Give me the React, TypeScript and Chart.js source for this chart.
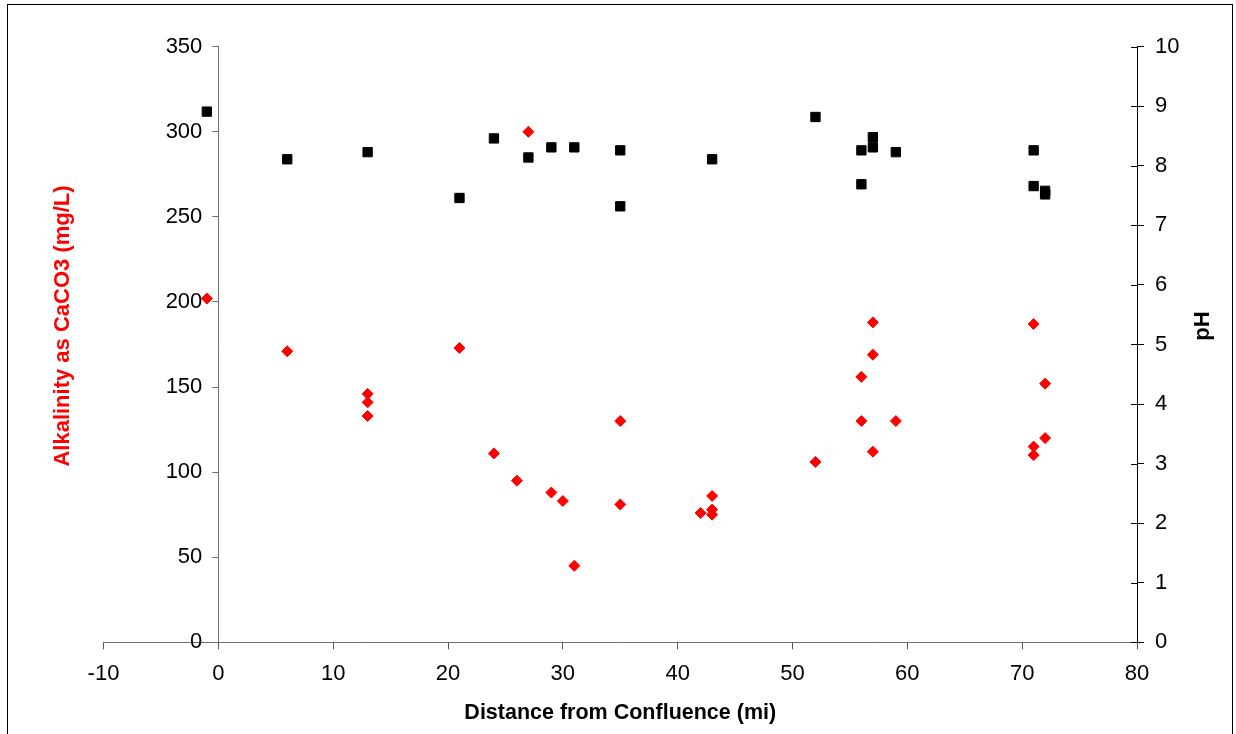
import React, { useEffect, useRef } from "react";
import { Chart, registerables } from "chart.js";

Chart.register(...registerables);

// Alkalinity as CaCO3 (mg/L) vs distance (mi)
const alkDistance = [-1, 6, 13, 13, 13, 21, 24, 26, 27, 29, 30, 31, 35, 35, 42, 43, 43, 43, 52, 56, 56, 57, 57, 57, 59, 71, 71, 71, 72, 72];
const alkValues = [202, 171, 146, 141, 133, 173, 111, 95, 300, 88, 83, 45, 130, 81, 76, 86, 78, 75, 106, 156, 130, 188, 169, 112, 130, 187, 115, 110, 152, 120];

// pH vs distance (mi)
const phDistance = [-1, 6, 13, 21, 24, 27, 29, 31, 35, 35, 43, 52, 56, 56, 57, 57, 59, 71, 71, 72, 72];
const phValues = [8.91, 8.11, 8.23, 7.46, 8.46, 8.14, 8.31, 8.31, 8.26, 7.32, 8.11, 8.82, 8.26, 7.69, 8.48, 8.31, 8.23, 8.26, 7.66, 7.58, 7.52];

// The left axis crosses the x axis at this distance
const leftAxisCrossesAt = 0;

const xTitle = "Distance from Confluence (mi)";
const yLeftTitle = "Alkalinity as CaCO3 (mg/L)";
const yRightTitle = "pH";

const FONT = "'Liberation Sans', Arial, sans-serif";

export default function App() {
  const ref = useRef<HTMLCanvasElement | null>(null);

  useEffect(() => {
    const canvas = ref.current;
    if (!canvas) return;

    const decorations = {
      id: "decorations",
      afterLayout(chart: any) {
        // move the left value axis so that it crosses the x axis at distance 0
        const y = chart.scales.y;
        const x0 = chart.scales.x.getPixelForValue(leftAxisCrossesAt);
        y.right = x0;
        y.left = x0 - 100;
        y.width = 100;
      },
      beforeDraw(chart: any) {
        const ctx = chart.ctx;
        ctx.save();
        ctx.strokeStyle = "#000";
        ctx.lineWidth = 1;
        ctx.strokeRect(7.5, 4.5, 1225, 800);
        ctx.restore();
      },
      afterDraw(chart: any) {
        const ctx = chart.ctx;
        const area = chart.chartArea;
        const y1 = chart.scales.y1;
        ctx.save();
        // inward half of the crossing ticks on the pH axis
        ctx.strokeStyle = "#000";
        ctx.lineWidth = 1;
        ctx.beginPath();
        for (const t of y1.ticks) {
          const py = Math.round(y1.getPixelForValue(t.value)) + 0.5;
          ctx.moveTo(area.right - 6, py);
          ctx.lineTo(area.right, py);
        }
        ctx.stroke();
        // axis titles
        const midY = 326;
        ctx.font = `bold 22px ${FONT}`;
        ctx.textAlign = "center";
        ctx.textBaseline = "middle";
        ctx.fillStyle = "#ff0000";
        ctx.translate(63, midY);
        ctx.rotate(-Math.PI / 2);
        ctx.fillText(yLeftTitle, 0, 0);
        ctx.restore();
        ctx.save();
        ctx.font = `bold 22px ${FONT}`;
        ctx.textAlign = "center";
        ctx.textBaseline = "middle";
        ctx.fillStyle = "#000";
        ctx.translate(1203, midY);
        ctx.rotate(-Math.PI / 2);
        ctx.fillText(yRightTitle, 0, 0);
        ctx.restore();
      },
    };

    const chart = new Chart(canvas, {
      type: "scatter",
      data: {
        datasets: [
          {
            label: "Alkalinity",
            data: alkDistance.map((x, i) => ({ x, y: alkValues[i] })),
            yAxisID: "y",
            pointStyle: "rectRot",
            pointRadius: 5.5,
            pointHoverRadius: 5.5,
            backgroundColor: "#ff0000",
            borderColor: "#ff0000",
            borderWidth: 1,
          },
          {
            label: "pH",
            data: phDistance.map((x, i) => ({ x, y: phValues[i] })),
            yAxisID: "y1",
            pointStyle: "rect",
            pointRadius: 6.6,
            pointHoverRadius: 6.6,
            backgroundColor: "#000000",
            borderColor: "#000000",
            borderWidth: 1,
          },
        ],
      },
      options: {
        responsive: false,
        animation: false,
        layout: { padding: { left: 103.5, top: 46.7, right: 0, bottom: 0 } },
        plugins: {
          legend: { display: false },
          tooltip: { enabled: false },
        },
        scales: {
          x: {
            type: "linear",
            position: "bottom",
            min: -10,
            max: 80,
            ticks: {
              stepSize: 10,
              color: "#000",
              padding: 11,
              font: { family: FONT, size: 22 },
            },
            grid: {
              drawOnChartArea: false,
              drawTicks: true,
              tickLength: 7,
              color: "#555",
            },
            border: { display: true, color: "#6f6f6f", width: 1 },
            title: {
              display: true,
              text: xTitle,
              color: "#000",
              font: { family: FONT, size: 21.5, weight: "bold" },
              padding: { top: 0, bottom: 8 },
            },
            afterFit: (s: any) => {
              s.height = 734 - 642.3;
            },
          },
          y: {
            type: "linear",
            position: "left",
            min: 0,
            max: 350,
            ticks: {
              stepSize: 50,
              color: "#000",
              padding: 10,
              font: { family: FONT, size: 22 },
            },
            grid: {
              drawOnChartArea: false,
              drawTicks: true,
              tickLength: 6,
              color: "#6f6f6f",
            },
            border: { display: true, color: "#6f6f6f", width: 1 },
            afterFit: (s: any) => {
              s.width = 0;
            },
          },
          y1: {
            type: "linear",
            position: "right",
            min: 0,
            max: 10,
            ticks: {
              stepSize: 1,
              color: "#000",
              padding: 11,
              font: { family: FONT, size: 22 },
            },
            grid: {
              drawOnChartArea: false,
              drawTicks: true,
              tickLength: 7,
              color: "#000",
            },
            border: { display: true, color: "#000", width: 1 },
            afterFit: (s: any) => {
              s.width = 1236 - 1137;
            },
          },
        },
      },
      plugins: [decorations],
    });

    return () => chart.destroy();
  }, []);

  return (
    <div style={{ position: "fixed", left: 0, top: 0, width: 1236, height: 734, background: "#fff" }}>
      <canvas ref={ref} width={1236} height={734} style={{ display: "block" }} />
    </div>
  );
}
